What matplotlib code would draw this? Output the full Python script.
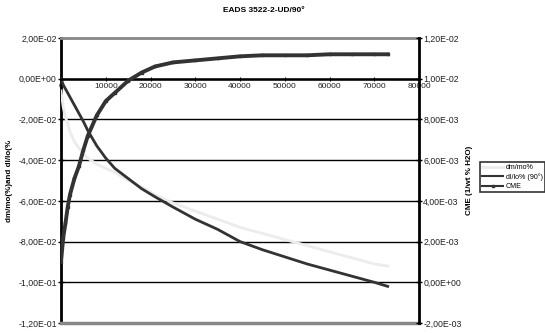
import matplotlib
matplotlib.use("Agg")
import matplotlib.pyplot as plt
from matplotlib.lines import Line2D

plt.rcParams['font.family'] = ['Liberation Sans', 'DejaVu Sans']

time = [0, 500, 1000, 1500, 2000, 3000, 4000, 5000, 6000, 8000, 10000, 12000,
        15000, 18000, 21000, 25000, 30000, 35000, 40000, 45000, 50000, 55000,
        60000, 65000, 70000, 73000]
dm_mo = [-0.006, -0.014, -0.019, -0.022, -0.026, -0.031, -0.034, -0.037, -0.039,
         -0.042, -0.044, -0.046, -0.050, -0.053, -0.057, -0.061, -0.065, -0.069,
         -0.073, -0.076, -0.079, -0.082, -0.085, -0.088, -0.091, -0.092]
dl_lo = [0.0, -0.003, -0.005, -0.007, -0.009, -0.013, -0.017, -0.021, -0.0255,
         -0.033, -0.039, -0.044, -0.049, -0.054, -0.058, -0.063, -0.069, -0.074,
         -0.080, -0.084, -0.0875, -0.091, -0.094, -0.097, -0.100, -0.102]
cme = [0.0010, 0.0022, 0.0029, 0.0037, 0.0043, 0.0051, 0.0057, 0.0065, 0.0072,
       0.0082, 0.0089, 0.0093, 0.0099, 0.0103, 0.0106, 0.0108, 0.0109, 0.0110,
       0.0111, 0.01115, 0.01115, 0.01115, 0.0112, 0.0112, 0.0112, 0.0112]

left_ticks = [0.02, 0.0, -0.02, -0.04, -0.06, -0.08, -0.10, -0.12]
left_labels = ["2,00E-02", "0,00E+00", "-2,00E-02", "-4,00E-02", "-6,00E-02",
               "-8,00E-02", "-1,00E-01", "-1,20E-01"]
right_ticks = [0.012, 0.010, 0.008, 0.006, 0.004, 0.002, 0.0, -0.002]
right_labels = ["1,20E-02", "1,00E-02", "8,00E-03", "6,00E-03", "4,00E-03",
                "2,00E-03", "0,00E+00", "-2,00E-03"]
x_ticks = [0, 10000, 20000, 30000, 40000, 50000, 60000, 70000, 80000]
x_labels = ["0", "10000", "20000", "30000", "40000", "50000", "60000", "70000", "80000"]

fig = plt.figure(figsize=(5.45, 3.33), dpi=100)
ax = fig.add_axes([61/545, 1-323/333, (419-61)/545, (323-38)/333])
ax.set_xlim(0, 80000)
ax.set_ylim(-0.12, 0.02)
ax.spines['bottom'].set_position(('data', 0))

for v in left_ticks:
    if v not in (0.02, -0.12):
        ax.axhline(v, color='black', lw=1.0, zorder=1)

ax.plot(time, dm_mo, color='#ececec', lw=2.0, zorder=3, label='dm/mo%')
ax.plot(time, dl_lo, color='#333333', lw=2.0, zorder=3, label='dl/lo% (90°)')

ax.set_yticks(left_ticks)
ax.set_yticklabels(left_labels)
ax.set_xticks(x_ticks)
ax.set_xticklabels(x_labels)
ax.spines['bottom'].set_linewidth(1.8)
ax.spines['bottom'].set_zorder(4)
ax.spines['top'].set_color('#888888')
ax.spines['top'].set_linewidth(2.0)
ax.spines['left'].set_linewidth(2.0)
ax.spines['right'].set_visible(False)
ax.tick_params(axis='x', direction='inout', length=3, width=0.8, pad=1.5,
               labelsize=6, labelcolor='#222222')
ax.tick_params(axis='y', direction='inout', length=4, width=1.0, pad=1,
               labelsize=6.3, labelcolor='#222222')
ax.axhline(-0.12, color='#888888', lw=2.5, zorder=5, clip_on=False)
ax.set_ylabel("dm/mo(%)and dl/lo(%", fontsize=5.8, fontweight='bold', labelpad=4)

ax2 = ax.twinx()
ax2.set_ylim(-0.002, 0.012)
ax2.plot(time, cme, color='#333333', lw=2.8, marker='s', ms=1.8, zorder=3, label='CME')
ax2.set_yticks(right_ticks)
ax2.set_yticklabels(right_labels)
ax2.spines['right'].set_linewidth(2.0)
ax2.spines['left'].set_visible(False)
ax2.spines['top'].set_visible(False)
ax2.spines['bottom'].set_visible(False)
ax2.tick_params(axis='y', direction='inout', length=4, width=1.0, pad=1,
                labelsize=6.3, labelcolor='#222222')
ax2.set_ylabel("CME (1/wt % H2O)", fontsize=5.8, fontweight='bold', labelpad=3)

fig.text(264/545, 1-10/333, "EADS 3522-2-UD/90°", ha='center', va='center',
         fontsize=6, fontweight='bold')

handles = [Line2D([], [], color='#ececec', lw=2.0),
           Line2D([], [], color='#333333', lw=1.5),
           Line2D([], [], color='#333333', lw=1.5, marker='s', ms=1.5)]
leg = fig.legend(handles, ['dm/mo%', 'dl/lo% (90°)', 'CME'],
                 loc='upper left', bbox_to_anchor=(480/545, 1-162/333),
                 fontsize=5.1, frameon=True, fancybox=False, borderpad=0.3,
                 handlelength=3.0, handletextpad=0.3, labelspacing=0.3,
                 borderaxespad=0)
leg.get_frame().set_edgecolor('black')
leg.get_frame().set_linewidth(1.2)

fig.savefig("out.png", dpi=100)
